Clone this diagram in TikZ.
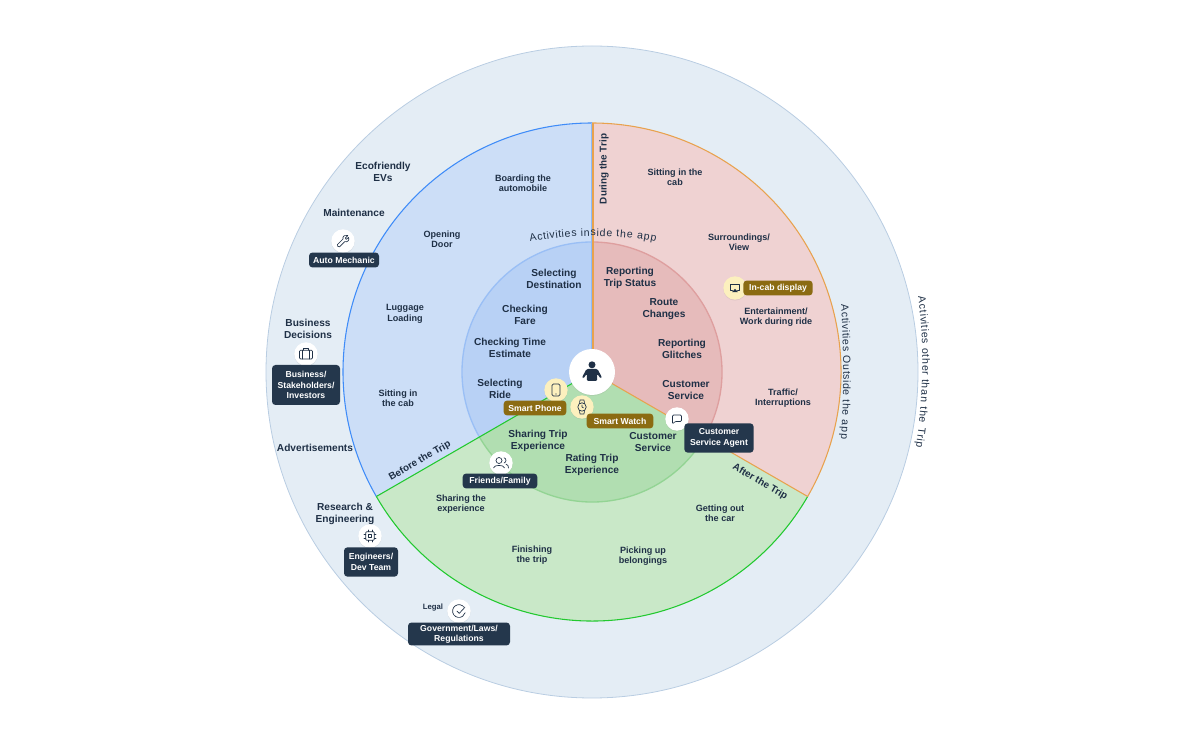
\documentclass[tikz,border=0pt]{standalone}
\usepackage{fontspec}
\setmainfont{Liberation Sans}
\usetikzlibrary{decorations.text,shadows}

\definecolor{ink}{HTML}{1F3046}
\definecolor{tagdark}{HTML}{24374C}
\definecolor{taggold}{HTML}{8B6B12}
\definecolor{iconpale}{HTML}{FCF0BE}
\definecolor{outerfill}{HTML}{E4EDF5}
\definecolor{outerline}{HTML}{B9CDE2}
\definecolor{bluefill}{HTML}{CCDEF7}
\definecolor{blueline}{HTML}{3F8CF8}
\definecolor{blueinner}{HTML}{B8D1F5}
\definecolor{blueedge}{HTML}{9ABFF5}
\definecolor{redfill}{HTML}{EFD2D2}
\definecolor{redline}{HTML}{E8A24E}
\definecolor{redinner}{HTML}{E6BBBB}
\definecolor{rededge}{HTML}{DE9F9F}
\definecolor{greenfill}{HTML}{C9E8C8}
\definecolor{greenline}{HTML}{22C92F}
\definecolor{greeninner}{HTML}{B1DEB1}
\definecolor{greenedge}{HTML}{93D494}

\tikzset{
  lblbig/.style={align=center, text=ink, inner sep=0pt, font=\bfseries\fontsize{7.6}{8.8}\selectfont},
  lblmid/.style={align=center, text=ink, inner sep=0pt, font=\bfseries\fontsize{6.8}{7.8}\selectfont},
  lblside/.style={text=ink, inner sep=0pt, font=\bfseries\fontsize{7.4}{8.8}\selectfont},
  tagbase/.style={align=center, text=white, rounded corners=2.6pt, inner sep=0pt, font=\bfseries\fontsize{6.5}{7.8}\selectfont},
  tagblue/.style={tagbase, fill=tagdark},
  taggold/.style={tagbase, fill=taggold},
  iconw/.style={circle, fill=white, minimum size=17.5pt, inner sep=0pt, drop shadow={opacity=0.14, shadow xshift=0pt, shadow yshift=-0.7pt}},
  icony/.style={iconw, fill=iconpale},
  glyph/.style={draw=ink, line width=0.5pt, line join=round, line cap=round, fill=none},
  archead/.style={decorate, decoration={text effects along path, text={#1}, text effects/.cd,
    text along path, fit text to path, characters={text=ink, font=\fontsize{7.9}{9}\selectfont}}},
  phoneicon/.pic={\draw[glyph, rounded corners=1pt] (-4,-6) rectangle (4,6); \fill[ink] (0,-4) circle[radius=0.6];},
  watchicon/.pic={\draw[glyph] (0,0) circle[radius=4.2]; \draw[glyph] (-2.5,3.4) -- (-2,7) -- (2,7) -- (2.5,3.4); \draw[glyph] (-2.5,-3.4) -- (-2,-7) -- (2,-7) -- (2.5,-3.4); \draw[glyph] (0,2) -- (0,0) -- (1.4,-0.8);},
  chaticon/.pic={\draw[glyph, rounded corners=0.8pt] (-4.5,-5) -- (-4.5,4) -- (4.5,4) -- (4.5,-2.5) -- (-2,-2.5) -- cycle;},
  displayicon/.pic={\draw[glyph] (-2.5,-2.5) -- (-4.5,-2.5) -- (-4.5,3.8) -- (4.5,3.8) -- (4.5,-2.5) -- (2.5,-2.5); \fill[ink] (-3,-4.2) -- (3,-4.2) -- (0,-0.8) -- cycle;},
  friendsicon/.pic={\draw[glyph] (-2,2.5) circle[radius=3]; \draw[glyph] (-7.5,-5) .. controls (-7.5,-1.5) and (3.5,-1.5) .. (3.5,-5); \draw[glyph] (3,5.2) .. controls (5.6,4.8) and (5.6,0.6) .. (3,0); \draw[glyph] (5,-1.2) .. controls (6.8,-1.6) and (7.5,-3) .. (7.5,-5);},
  wrenchicon/.pic={\draw[glyph] (-5.5,-3.5) -- (0,2) .. controls (-0.8,5) and (2.5,6.6) .. (4.8,5.5) -- (2.4,3.1) -- (3.2,1.6) -- (5.6,3.6) .. controls (6.8,1) and (4.5,-1.6) .. (1.8,-0.6) -- (-3.5,-5.8) .. controls (-4.5,-6.6) and (-6.5,-4.6) .. (-5.5,-3.5) -- cycle;},
  caseicon/.pic={\draw[glyph, rounded corners=0.8pt] (-6.5,-5) rectangle (6.5,3.8); \draw[glyph] (-2.8,3.8) -- (-2.8,6) -- (2.8,6) -- (2.8,3.8); \draw[glyph] (-3.2,-5) -- (-3.2,3.8); \draw[glyph] (3.2,-5) -- (3.2,3.8);},
  chipicon/.pic={\draw[glyph, rounded corners=0.6pt] (-4.2,-4.2) rectangle (4.2,4.2); \draw[glyph] (-1.7,-1.7) rectangle (1.7,1.7);
    \foreach \k in {-2,2}{\draw[glyph] (\k,4.2) -- (\k,6); \draw[glyph] (\k,-4.2) -- (\k,-6); \draw[glyph] (4.2,\k) -- (6,\k); \draw[glyph] (-4.2,\k) -- (-6,\k);}},
  checkicon/.pic={\draw[glyph] (5.2,3.6) arc[start angle=35,end angle=345,radius=6.4]; \draw[glyph] (-2.2,0) -- (0.2,-2.4) -- (6,3.8);},
  personicon/.pic={\fill[ink] (0,7.2) circle[radius=3.5];
    \fill[ink, rounded corners=1pt] (-5.5,3) -- (5.5,3) -- (10,-5.5) -- (8.4,-6.5) -- (5.2,-1.6) -- (5.2,-9) -- (-5.2,-9) -- (-5.2,-1.6) -- (-8.4,-6.5) -- (-10,-5.5) -- cycle;}
}

\begin{document}
\begin{tikzpicture}[x=0.75pt, y=0.75pt]
  \useasboundingbox (0,0) rectangle (1200,743);
  \coordinate (hub) at (592,371);

  % rings
  \draw[fill=outerfill, draw=outerline, line width=0.6pt] (hub) circle[radius=326];

  \fill[bluefill] (hub) -- ++(90:249) arc[start angle=90, end angle=210, radius=249] -- cycle;
  \fill[redfill] (hub) -- ++(-30:249) arc[start angle=-30, end angle=90, radius=249] -- cycle;
  \fill[greenfill] (hub) -- ++(210:249) arc[start angle=210, end angle=330, radius=249] -- cycle;

  \fill[blueinner] (hub) -- ++(90:130) arc[start angle=90, end angle=210, radius=130] -- cycle;
  \fill[redinner] (hub) -- ++(-30:130) arc[start angle=-30, end angle=90, radius=130] -- cycle;
  \fill[greeninner] (hub) -- ++(210:130) arc[start angle=210, end angle=330, radius=130] -- cycle;

  \draw[blueedge, line width=1pt] (hub) ++(90:130) arc[start angle=90, end angle=210, radius=130];
  \draw[rededge, line width=1pt] (hub) ++(-30:130) arc[start angle=-30, end angle=90, radius=130];
  \draw[greenedge, line width=1pt] (hub) ++(210:130) arc[start angle=210, end angle=330, radius=130];

  \draw[blueline, line width=0.8pt] (hub) ++(90:249) arc[start angle=90, end angle=210, radius=249];
  \draw[redline, line width=0.8pt] (hub) ++(-30:249) arc[start angle=-30, end angle=90, radius=249];
  \draw[greenline, line width=0.8pt] (hub) ++(210:249) arc[start angle=210, end angle=330, radius=249];

  \draw[blueline!60, line width=0.6pt] (591.7,371) -- (591.7,620);
  \draw[redline, line width=0.8pt] (593,371) -- (593,620);
  \draw[redline, line width=0.8pt] (hub) -- ++(-30:249);
  \draw[greenline, line width=0.8pt] (hub) -- ++(210:249);

  % curved titles
  \path[archead={Activities inside the app}]
    (530,501) .. controls (572,509) and (614,509) .. (656,501);
  \path[archead={Activities Outside the app}]
    (841,438) .. controls (844,394) and (844,348) .. (841,304);
  \path[archead={Activities other than the Trip}]
    (918,446) .. controls (925,396) and (923,346) .. (916,296);

  % sector titles
  \node[lblside, rotate=90] (during) at (604,574) {During the Trip};
  \node[lblside, rotate=30] (before) at (420,282) {Before the Trip};
  \node[lblside, rotate=-30] (after) at (760,261) {After the Trip};

  % outer ring
  \node[lblbig] (eco) at (383,571) {Ecofriendly\\EVs};
  \node[lblbig] (maint) at (354,530) {Maintenance};
  \node[lblbig] (bizdec) at (308,414) {Business\\Decisions};
  \node[lblbig] (ads) at (315,295) {Advertisements};
  \node[lblbig] (research) at (345,229) {Research \&\\Engineering};
  \node[lblmid, font=\bfseries\fontsize{5.8}{7}\selectfont] (legal) at (433,135) {Legal};

  % middle ring
  \node[lblmid] (board) at (523,560) {Boarding the\\automobile};
  \node[lblmid] (door) at (442,504) {Opening\\Door};
  \node[lblmid] (luggage) at (405,429) {Luggage\\Loading};
  \node[lblmid] (sitleft) at (398,345) {Sitting in\\the cab};
  \node[lblmid] (sitright) at (675,566) {Sitting in the\\cab};
  \node[lblmid] (view) at (739,501) {Surroundings/\\View};
  \node[lblmid] (enter) at (776,426) {Entertainment/\\Work during ride};
  \node[lblmid] (traffic) at (783,345) {Traffic/\\Interruptions};
  \node[lblmid] (getout) at (720,230) {Getting out\\the car};
  \node[lblmid] (pickup) at (643,187) {Picking up\\belongings};
  \node[lblmid] (finish) at (532,188) {Finishing\\the trip};
  \node[lblmid] (share) at (461,239) {Sharing the\\experience};

  % inner ring
  \node[lblbig] (dest) at (554,464) {Selecting\\Destination};
  \node[lblbig] (fare) at (525,428) {Checking\\Fare};
  \node[lblbig] (time) at (510,395) {Checking Time\\Estimate};
  \node[lblbig] (ride) at (500,354) {Selecting\\Ride};
  \node[lblbig] (status) at (630,465) {Reporting\\Trip Status};
  \node[lblbig] (route) at (664,434) {Route\\Changes};
  \node[lblbig] (glitch) at (682,394) {Reporting\\Glitches};
  \node[lblbig] (servred) at (686,353) {Customer\\Service};
  \node[lblbig] (servgreen) at (653,301) {Customer\\Service};
  \node[lblbig] (sharetrip) at (538,302) {Sharing Trip\\Experience};
  \node[lblbig] (rating) at (592,278) {Rating Trip\\Experience};

  % icons and tags
  \node[iconw, minimum size=34.5pt] (user) at (592,371) {};
  \pic at (user) {personicon};

  \node[icony] (phone) at (556,353) {};
  \pic at (phone) {phoneicon};
  \node[icony] (watch) at (582,336) {};
  \pic at (watch) {watchicon};
  \node[icony] (display) at (735,455) {};
  \pic at (display) {displayicon};
  \node[iconw] (chat) at (677,324) {};
  \pic at (chat) {chaticon};
  \node[iconw] (friends) at (501,280) {};
  \pic at (friends) {friendsicon};
  \node[iconw] (wrench) at (343,502) {};
  \pic at (wrench) {wrenchicon};
  \node[iconw] (case) at (306,389) {};
  \pic at (case) {caseicon};
  \node[iconw] (chip) at (370,207) {};
  \pic at (chip) {chipicon};
  \node[iconw] (check) at (459,132) {};
  \pic at (check) {checkicon};

  \node[taggold, minimum width=47pt, minimum height=11.2pt] (tagphone) at (535,335) {Smart Phone};
  \node[taggold, minimum width=50pt, minimum height=11.2pt] (tagwatch) at (620,322) {Smart Watch};
  \node[taggold, minimum width=52pt, minimum height=11.2pt] (tagcab) at (778,455) {In-cab display};
  \node[tagblue, minimum width=52.5pt, minimum height=11.2pt] (tagauto) at (344,483) {Auto Mechanic};
  \node[tagblue, minimum width=51pt, minimum height=30pt] (tagbiz) at (306,358) {Business/\\Stakeholders/\\Investors};
  \node[tagblue, minimum width=40.5pt, minimum height=22pt] (tageng) at (371,181) {Engineers/\\Dev Team};
  \node[tagblue, minimum width=76.5pt, minimum height=17.2pt] (taggov) at (459,109) {Government/Laws/\\Regulations};
  \node[tagblue, minimum width=56pt, minimum height=11.2pt] (tagfam) at (500,262) {Friends/Family};
  \node[tagblue, minimum width=52pt, minimum height=22pt] (tagagent) at (719,305) {Customer\\Service Agent};
\end{tikzpicture}
\end{document}
